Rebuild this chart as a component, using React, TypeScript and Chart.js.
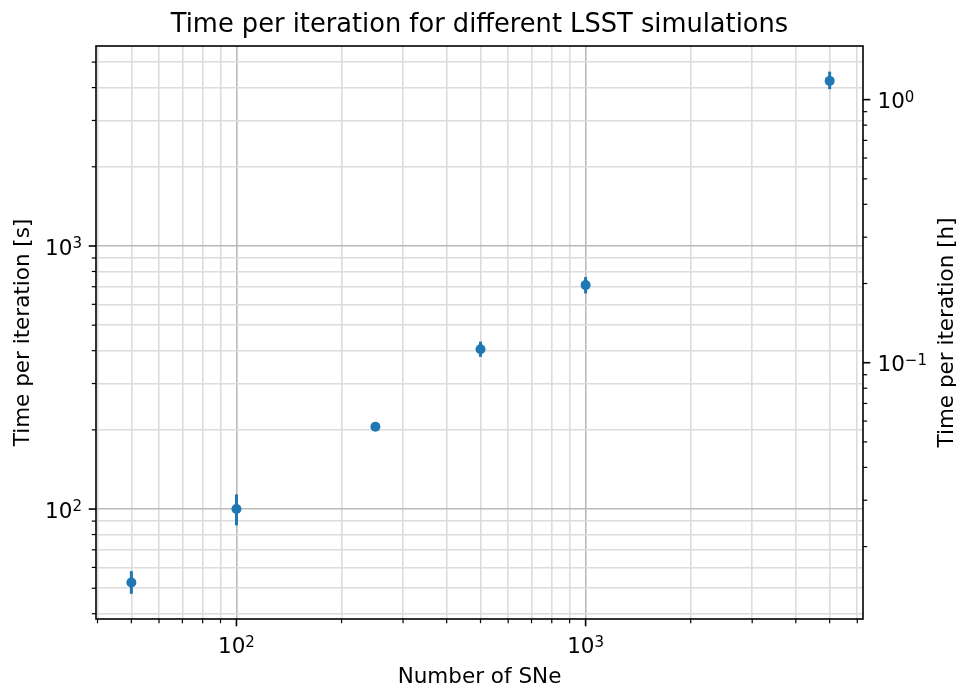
import React, { useEffect, useRef } from "react";
import { Chart, registerables } from "chart.js";

Chart.register(...registerables);

// ---- data ----
const nSNe = [50, 100, 250, 500, 1000, 5000];
const timeMean = [52.6, 100, 205.5, 405, 710, 4242];
const timeLow = [47.6, 86.7, 198, 379, 660, 3944];
const timeHigh = [58.1, 113.7, 213, 433, 762, 4601];

// ---- ticks ----
const xTickValues = [40, 50, 60, 70, 80, 90, 100, 200, 300, 400, 500, 600, 700, 800, 900, 1000, 2000, 3000, 4000, 5000, 6000];
const ySecTickValues = [40, 50, 60, 70, 80, 90, 100, 200, 300, 400, 500, 600, 700, 800, 900, 1000, 2000, 3000, 4000, 5000];
const yHourTickValues = [0.02, 0.03, 0.04, 0.05, 0.06, 0.07, 0.08, 0.09, 0.1, 0.2, 0.3, 0.4, 0.5, 0.6, 0.7, 0.8, 0.9, 1];

const X_MIN = 39.6;
const X_MAX = 6230;
const Y_MIN = 38.2;
const Y_MAX = 5757;
const SEC_PER_HOUR = 3600;

const TITLE = "Time per iteration for different LSST simulations";
const X_LABEL = "Number of SNe";
const Y_LABEL = "Time per iteration [s]";
const Y2_LABEL = "Time per iteration [h]";

const BLUE = "#1f77b4";
const FONT = "'DejaVu Sans', sans-serif";
const BASE_SIZE = 21.5;
const SUP_SIZE = 15;

const isPow10 = (v: number) => {
  const l = Math.log10(v);
  return Math.abs(l - Math.round(l)) < 1e-9;
};
const expText = (v: number) => {
  const e = Math.round(Math.log10(v));
  return e < 0 ? "\u2212" + String(-e) : String(e);
};
const setTicks = (vals: number[]) => (scale: any) => {
  scale.ticks = vals.map((v) => ({ value: v, major: isPow10(v) }));
};

const gridColor = (ctx: any) => (ctx.tick && isPow10(ctx.tick.value) ? "#bababa" : "#dcdcdc");

// draws "10^e" as base + superscript; align: 'center' | 'right' | 'left'
function drawPow(ctx: any, v: number, x: number, baseline: number, align: string) {
  const base = "10";
  const sup = expText(v);
  ctx.font = `${BASE_SIZE}px ${FONT}`;
  const wb = ctx.measureText(base).width;
  ctx.font = `${SUP_SIZE}px ${FONT}`;
  const ws = ctx.measureText(sup).width;
  const total = wb + ws;
  let x0 = x;
  if (align === "center") x0 = x - total / 2;
  else if (align === "right") x0 = x - total;
  ctx.textAlign = "left";
  ctx.textBaseline = "alphabetic";
  ctx.font = `${BASE_SIZE}px ${FONT}`;
  ctx.fillText(base, x0, baseline);
  ctx.font = `${SUP_SIZE}px ${FONT}`;
  ctx.fillText(sup, x0 + wb, baseline - 6.5);
}

const decorPlugin = {
  id: "decor",
  beforeDatasetsDraw(chart: any) {
    const { ctx } = chart;
    const x = chart.scales.x;
    const y = chart.scales.y;
    ctx.save();
    ctx.strokeStyle = BLUE;
    ctx.lineWidth = 3;
    for (let i = 0; i < nSNe.length; i++) {
      const px = x.getPixelForValue(nSNe[i]);
      ctx.beginPath();
      ctx.moveTo(px, y.getPixelForValue(timeLow[i]));
      ctx.lineTo(px, y.getPixelForValue(timeHigh[i]));
      ctx.stroke();
    }
    ctx.restore();
  },
  afterDraw(chart: any) {
    const { ctx, chartArea: a } = chart;
    const x = chart.scales.x;
    const y = chart.scales.y;
    const y2 = chart.scales.y2;
    ctx.save();
    ctx.strokeStyle = "#000";
    ctx.fillStyle = "#000";
    const tick = (maj: boolean) => {
      ctx.lineWidth = maj ? 1.6 : 1.2;
      return maj ? 7.3 : 4.2;
    };
    for (const v of xTickValues) {
      const p = x.getPixelForValue(v);
      const len = tick(isPow10(v));
      ctx.beginPath();
      ctx.moveTo(p, a.bottom);
      ctx.lineTo(p, a.bottom + len);
      ctx.stroke();
      if (isPow10(v)) drawPow(ctx, v, p, a.bottom + 34, "center");
    }
    for (const v of ySecTickValues) {
      const p = y.getPixelForValue(v);
      const len = tick(isPow10(v));
      ctx.beginPath();
      ctx.moveTo(a.left, p);
      ctx.lineTo(a.left - len, p);
      ctx.stroke();
      if (isPow10(v)) drawPow(ctx, v, a.left - 14, p + 8.6, "right");
    }
    for (const v of yHourTickValues) {
      const p = y2.getPixelForValue(v);
      const len = tick(isPow10(v));
      ctx.beginPath();
      ctx.moveTo(a.right, p);
      ctx.lineTo(a.right + len, p);
      ctx.stroke();
      if (isPow10(v)) drawPow(ctx, v, a.right + 14.5, p + 8.6, "left");
    }
    // spines
    ctx.lineWidth = 1.6;
    ctx.strokeRect(a.left, a.top, a.right - a.left, a.bottom - a.top);

    // texts
    ctx.textBaseline = "alphabetic";
    ctx.textAlign = "center";
    ctx.font = `25.7px ${FONT}`;
    ctx.fillText(TITLE, (a.left + a.right) / 2, 32);
    ctx.font = `${BASE_SIZE}px ${FONT}`;
    ctx.fillText(X_LABEL, (a.left + a.right) / 2, 683);
    const cy = (a.top + a.bottom) / 2;
    ctx.save();
    ctx.translate(29, cy);
    ctx.rotate(-Math.PI / 2);
    ctx.fillText(Y_LABEL, 0, 0);
    ctx.restore();
    ctx.save();
    ctx.translate(953, cy);
    ctx.rotate(-Math.PI / 2);
    ctx.fillText(Y2_LABEL, 0, 0);
    ctx.restore();
    ctx.restore();
  },
};

export default function App() {
  const ref = useRef<HTMLCanvasElement | null>(null);
  useEffect(() => {
    if (!ref.current) return;
    const chart = new Chart(ref.current, {
      type: "scatter",
      data: {
        datasets: [
          {
            label: "time",
            data: nSNe.map((n, i) => ({ x: n, y: timeMean[i] })),
            backgroundColor: BLUE,
            borderColor: BLUE,
            borderWidth: 0,
            pointRadius: 5,
            yAxisID: "y",
            xAxisID: "x",
          },
        ],
      },
      options: {
        responsive: false,
        animation: false,
        layout: { padding: { top: 46, left: 0, right: 0, bottom: 0 } },
        plugins: { legend: { display: false }, title: { display: false }, tooltip: { enabled: false } },
        scales: {
          x: {
            type: "logarithmic",
            position: "bottom",
            min: X_MIN,
            max: X_MAX,
            afterBuildTicks: setTicks(xTickValues),
            afterFit: (s: any) => { s.height = 67; },
            grid: { color: gridColor, lineWidth: 1.6, drawTicks: false },
            border: { display: false },
            ticks: { display: false, autoSkip: false, maxRotation: 0 },
          },
          y: {
            type: "logarithmic",
            position: "left",
            min: Y_MIN,
            max: Y_MAX,
            afterBuildTicks: setTicks(ySecTickValues),
            afterFit: (s: any) => { s.width = 96; },
            grid: { color: gridColor, lineWidth: 1.6, drawTicks: false },
            border: { display: false },
            ticks: { display: false, autoSkip: false },
          },
          y2: {
            type: "logarithmic",
            position: "right",
            min: Y_MIN / SEC_PER_HOUR,
            max: Y_MAX / SEC_PER_HOUR,
            afterBuildTicks: setTicks(yHourTickValues),
            afterFit: (s: any) => { s.width = 93; },
            grid: { display: false, drawOnChartArea: false, drawTicks: false },
            border: { display: false },
            ticks: { display: false, autoSkip: false },
          },
        },
      },
      plugins: [decorPlugin],
    } as any);
    return () => chart.destroy();
  }, []);
  return (
    <div style={{ position: "absolute", left: 0, top: 0, width: 956, height: 686, background: "#fff" }}>
      <canvas ref={ref} width={956} height={686} style={{ display: "block" }} />
    </div>
  );
}
